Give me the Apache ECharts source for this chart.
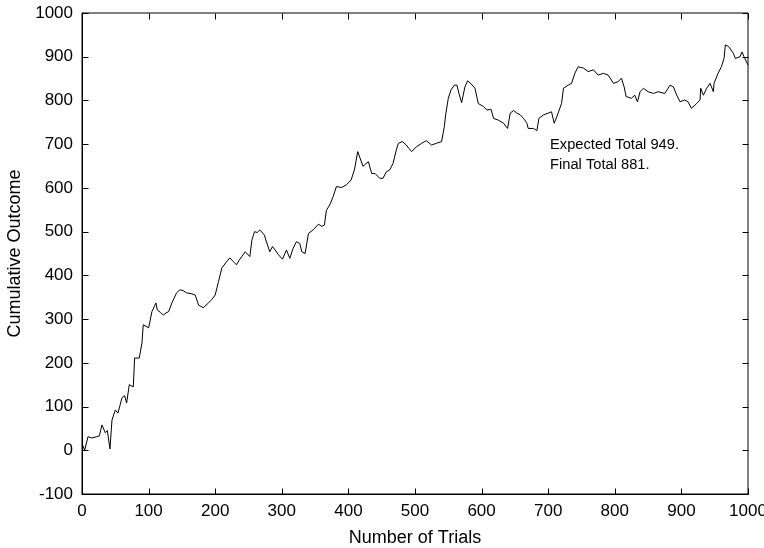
<!DOCTYPE html>
<html>
<head>
<meta charset="utf-8">
<script src="https://cdn.jsdelivr.net/npm/echarts@6/dist/echarts.min.js"></script>
<style>html,body{margin:0;padding:0;background:#fff;}#c{width:764px;height:548px;}</style>
</head>
<body>
<div id="c"></div>
<script>
const trials = [0,4,6,9,15,22,26,30,35,38,42,45,50,54,57,60,64,67,71,77,79,86,90,92,100,105,111,113,118,122,126,130,135,142,147,152,157,164,170,175,182,190,195,200,205,210,217,222,227,232,236,240,245,252,255,259,263,267,270,274,276,282,286,290,295,301,307,312,317,322,327,330,335,340,347,350,355,360,364,367,372,377,382,390,397,404,409,414,417,422,426,430,435,440,447,452,457,462,467,472,475,481,487,491,495,502,510,517,525,532,540,544,546,550,554,559,563,566,570,575,579,584,590,595,603,608,614,618,625,633,639,643,648,653,658,663,668,670,678,683,686,693,700,705,709,713,715,720,723,730,735,740,745,753,760,768,775,783,790,798,805,810,814,817,825,830,834,838,843,850,858,865,868,875,883,888,893,898,905,910,915,923,928,929,933,938,943,948,949,955,960,964,966,971,978,981,988,991,994,1000];
const outcome = [15,0,2,31,28,31,33,58,40,45,3,69,92,85,81,120,125,108,150,145,211,211,245,287,280,317,337,321,315,309,314,317,337,360,367,365,360,358,355,332,326,337,345,355,386,417,431,440,432,424,435,443,454,443,480,500,498,504,500,492,481,454,466,458,447,437,458,439,462,477,473,454,450,496,504,504,517,512,515,549,561,580,603,601,607,618,641,683,679,649,655,660,633,633,622,622,637,641,656,687,702,706,698,690,683,694,702,708,698,702,706,740,767,805,824,835,835,816,795,831,845,838,828,793,786,778,780,759,755,748,736,771,777,771,767,759,748,736,736,731,759,767,771,774,748,763,767,793,828,835,839,862,877,874,866,870,858,862,858,839,843,851,831,809,805,812,797,820,828,820,816,820,824,816,835,831,812,797,801,797,782,793,801,828,812,828,839,820,839,862,877,896,927,923,908,896,900,911,900,881];
const xTicks = [0,100,200,300,400,500,600,700,800,900,1000];
const yTicks = [-100,0,100,200,300,400,500,600,700,800,900,1000];
const notes = ['Expected Total 949.', 'Final Total 881.'];

const FONT = '"Liberation Sans", Arial, Helvetica, sans-serif';
const xMin = xTicks[0], xMax = xTicks[xTicks.length - 1];
const yMin = yTicks[0], yMax = yTicks[yTicks.length - 1];
const TICK = 6;

// inward tick marks on all four sides, positioned through the axes' scales
const tickData = [];
xTicks.forEach(v => { tickData.push([v, yMin, 0]); tickData.push([v, yMax, 1]); });
yTicks.forEach(v => { tickData.push([xMin, v, 2]); tickData.push([xMax, v, 3]); });

const chart = echarts.init(document.getElementById('c'), null, {renderer: 'canvas'});
const lbl = {show: true, fontFamily: FONT, fontSize: 17, color: '#000', margin: 9, formatter: v => String(v)};
const axLine = {show: true, onZero: false, lineStyle: {color: '#000', width: 1}};
chart.setOption({
  animation: false,
  backgroundColor: '#fff',
  grid: {left: 82, right: 16, top: 13, bottom: 54, containLabel: false, outerBoundsMode: 'none',
         show: true, borderColor: '#000', borderWidth: 1, backgroundColor: 'transparent'},
  xAxis: {
    type: 'value', min: xMin, max: xMax, interval: 100, position: 'bottom',
    name: 'Number of Trials', nameLocation: 'middle', nameGap: 35,
    nameTextStyle: {fontFamily: FONT, fontSize: 18, color: '#000'},
    axisLine: axLine, axisTick: {show: false}, axisLabel: lbl, splitLine: {show: false}
  },
  yAxis: {
    type: 'value', min: yMin, max: yMax, interval: 100, position: 'left',
    name: 'Cumulative Outcome', nameLocation: 'middle', nameGap: 57,
    nameTextStyle: {fontFamily: FONT, fontSize: 18, color: '#000'},
    axisLine: axLine, axisTick: {show: false}, axisLabel: lbl, splitLine: {show: false}
  },
  series: [{
    type: 'line',
    data: trials.map((t, i) => [t, outcome[i]]),
    showSymbol: false,
    lineStyle: {color: '#000', width: 1},
    itemStyle: {color: '#000'},
    silent: true
  }, {
    type: 'custom',
    silent: true,
    clip: false,
    z: 10,
    data: tickData,
    encode: {x: 0, y: 1},
    renderItem: function (params, api) {
      const p = api.coord([api.value(0), api.value(1)]);
      const side = api.value(2);
      const x = Math.round(p[0]) + 0.5, y = Math.round(p[1]) + 0.5;
      let x2 = x, y2 = y;
      if (side === 0) y2 = y - TICK;
      else if (side === 1) y2 = y + TICK;
      else if (side === 2) x2 = x + TICK;
      else x2 = x - TICK;
      return {type: 'line', shape: {x1: x, y1: y, x2: x2, y2: y2},
              style: {stroke: '#000', lineWidth: 1}};
    }
  }],
  graphic: [
    {type: 'text', left: 550, top: 137, style: {text: notes[0], font: '14.7px ' + FONT, fill: '#000'}},
    {type: 'text', left: 550, top: 157, style: {text: notes[1], font: '14.7px ' + FONT, fill: '#000'}}
  ]
});
</script>
</body>
</html>
